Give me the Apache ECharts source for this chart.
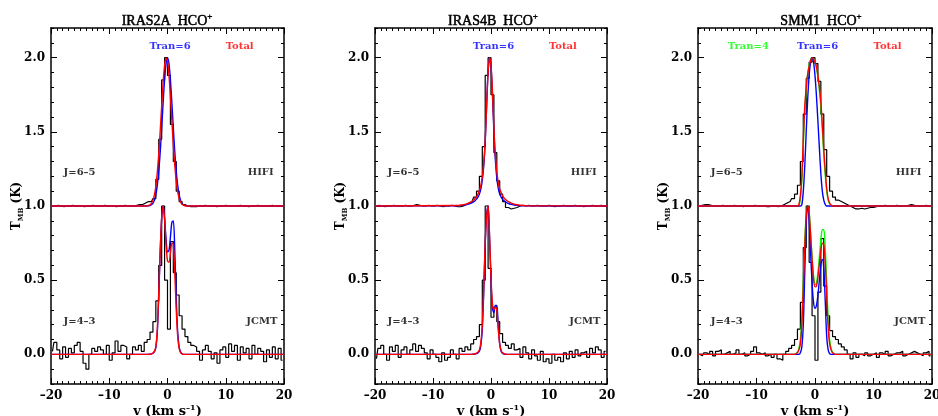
<!DOCTYPE html>
<html><head><meta charset="utf-8">
<script src="https://cdn.jsdelivr.net/npm/echarts@6/dist/echarts.min.js"></script>
<style>html,body{margin:0;padding:0;background:#fff}#c{width:938px;height:416px}</style>
</head><body><div id="c"></div>
<script>
// ---------- text ----------
const sources = ['IRAS2A', 'IRAS4B', 'SMM1'];
const molecule = 'HCO';
const xTicks = [-20, -10, 0, 10, 20];
const yTicks = [0, 0.5, 1, 1.5, 2];
const transitionLabels = ['J=6\u20135', 'J=4\u20133'];
const instrumentLabels = ['HIFI', 'JCMT'];
const hifiOffset = 1.0;

// ---------- observed channels (0.5 km/s) ----------
const chanV = [];
for (let k = 0; k < 80; k++) chanV.push(-19.75 + 0.5 * k);

const iras2a_hifi_obs = [0.00,0.00,0.005,0.00,-0.005,0.00,0.00,0.005,0.00,0.00, 0.00,-0.005,0.00,0.00,0.005,0.00,0.00,0.00,0.005,0.00,
  0.00,0.00,-0.005,0.00,0.00,0.005,0.00,0.00,0.00,0.005, 0.01,0.01,0.02,0.03,
  0.03,0.05,0.18,0.45,0.85,1.00,0.88,0.55,0.30,0.10,0.03,0.01,0.00,-0.005,-0.005,
  -0.005,0.00,0.00,0.005,0.00,0.00,0.00,-0.005,0.00,0.00, 0.005,0.00,0.00,0.00,0.00,0.005,0.00,0.00,-0.005,0.00,
  0.00,0.005,0.00,0.00,0.00,0.00,0.005,0.00,0.00,0.00,0.00];
const iras2a_jcmt_obs = [0.02,0.08,0.03,-0.03,0.05,-0.02,0.04,0.01,0.06,0.08,
  0.02,-0.06,-0.10,0.00,0.04,0.02,0.05,0.03,0.00,0.06,
  -0.04,0.01,0.09,0.02,0.06,0.05,-0.03,0.00,0.05,0.03,
  0.06,0.02,0.08,0.10,
  0.15,0.22,0.36,0.60,1.00,0.50,0.17,0.76,0.55,0.40,0.26,0.17,0.12,0.08,0.06,
  0.05,0.02,-0.04,0.03,0.06,0.02,-0.03,0.01,-0.06,0.03,
  0.05,-0.02,0.07,0.02,0.06,-0.04,0.05,0.01,0.04,-0.03,
  0.06,0.00,0.04,0.02,-0.05,0.03,-0.02,0.05,-0.03,0.04,-0.04];
const iras4b_hifi_obs = [0.00,0.005,0.00,-0.005,0.00,0.00,0.005,0.00,0.00,0.00, 0.005,0.00,0.00,0.005,0.01,0.005,0.00,0.00,0.005,0.00,
  0.00,0.005,0.00,-0.005,0.00,0.00,0.005,0.00,-0.005,-0.005, 0.00,
  0.01,0.02,0.03,0.06,0.10,0.20,0.40,0.88,1.00,0.75,0.36,0.17,0.08,0.03,-0.01,-0.02,-0.015,-0.01,
  0.00,0.005,0.00,0.005,0.00,0.00,0.005,0.00,0.00,0.00, 0.005,0.00,-0.005,0.00,0.00,0.005,0.00,0.00,0.00,0.005,
  0.00,0.00,-0.005,0.00,0.00,0.005,0.00,0.00,0.005,0.00,0.00];
const iras4b_jcmt_obs = [-0.03,0.04,0.06,0.00,-0.04,0.05,0.02,0.06,-0.02,0.03, 0.05,0.00,0.03,0.07,0.02,0.06,0.04,0.01,-0.03,0.03,
  0.00,-0.02,-0.05,0.01,-0.04,-0.02,0.03,0.00,-0.03,0.04, 0.02,
  0.05,0.03,0.07,0.10,0.12,0.20,0.50,1.00,0.58,0.25,0.32,0.22,0.14,0.08,0.06,0.04,0.07,0.03,
  0.04,-0.02,0.05,0.01,-0.03,0.03,-0.01,-0.04,0.02,-0.05, -0.03,-0.06,0.00,-0.04,-0.02,-0.05,0.01,-0.03,0.02,-0.02,
  0.03,-0.01,0.01,0.02,-0.02,0.04,0.01,0.05,0.03,-0.02,0.02];
const smm1_hifi_obs = [0.00,0.005,0.01,0.01,0.005,0.00,0.00,0.00,0.005,0.00, 0.00,0.00,0.005,0.00,0.00,-0.005,0.00,0.00,0.00,0.005,
  0.00,0.00,0.00,-0.005,-0.005,0.00,0.00,
  -0.005,0.00,0.01,0.02,0.03,0.05,0.08,0.14,0.30,0.62,0.86,0.97,1.00,0.96,0.84,0.62,0.38,0.20,0.10,0.06,0.04,0.03,0.02,0.01,0.00,-0.01,
  -0.02,-0.02,-0.015,-0.02,-0.015,-0.01,-0.01,-0.005,0.00,0.00, 0.005,0.00,0.00,0.00,0.005,0.00,0.00,0.00,0.005,0.01,
  0.005,0.00,0.00,0.00,0.005,0.00,0.00];
const smm1_jcmt_obs = [0.00,-0.01,0.01,0.00,0.02,-0.01,0.02,0.03,0.00,0.01, 0.02,0.00,0.01,0.03,0.00,0.01,-0.01,0.00,0.02,0.05,
  0.01,0.00,0.01,-0.01,0.00,-0.02,0.00,-0.03,
  -0.04,0.00,0.02,0.04,0.06,0.10,0.17,0.35,0.72,1.00,0.62,0.26,-0.04,0.42,0.78,0.46,0.26,0.16,0.12,0.10,0.07,0.05,0.03,0.00,
  -0.03,0.01,-0.02,0.00,-0.01,0.01,-0.01,0.00,0.01,-0.02, 0.01,0.00,0.02,-0.01,0.00,0.01,0.01,0.02,-0.01,0.00,
  0.01,0.02,0.01,0.00,-0.01,0.01,0.02,-0.01];

// ---------- model grid and model curves ----------
const modelV = [-20,-6,-5,-4.5,-4,-3.5,-3,-2.75,-2.5,-2.25,-2,-1.75,-1.5,-1.25,-1,-0.75,-0.5,-0.25,0,0.25,0.5,0.75,1,1.25,1.5,1.75,2,2.25,2.5,2.75,3,3.5,4,4.5,5,6,20];

const iras2a_hifi_tran6 = [0,0,0,0,0,0,0.003,0.008,0.018,0.038,0.076,0.139,0.234,0.365,0.525,0.696,0.851,0.960,1.0,0.960,0.851,0.696,0.525,0.365,0.234,0.139,0.076,0.038,0.018,0.008,0.003,0,0,0,0,0,0];
const iras2a_hifi_total = [0,0,0,0,0,0.001,0.008,0.018,0.038,0.075,0.135,0.227,0.352,0.506,0.674,0.830,0.946,0.998,0.976,0.882,0.739,0.573,0.411,0.273,0.168,0.096,0.050,0.025,0.011,0.005,0.002,0,0,0,0,0,0];
const iras2a_jcmt_tran6 = [0,0,0,0,0,0,0.001,0.003,0.007,0.018,0.045,0.15,0.40,0.69,0.92,1.0,0.92,0.78,0.69,0.70,0.79,0.89,0.90,0.70,0.38,0.15,0.05,0.015,0.004,0,0,0,0,0,0,0,0];
const iras2a_jcmt_total = [0,0,0,0,0,0,0.001,0.003,0.008,0.02,0.05,0.17,0.42,0.70,0.92,1.0,0.91,0.74,0.63,0.62,0.68,0.75,0.74,0.55,0.30,0.12,0.04,0.012,0.003,0,0,0,0,0,0,0,0];

const iras4b_hifi_tran6 = [0,0.002,0.004,0.007,0.011,0.018,0.028,0.036,0.046,0.06,0.08,0.115,0.175,0.27,0.43,0.68,0.91,1.0,0.94,0.75,0.50,0.31,0.19,0.12,0.08,0.06,0.045,0.035,0.028,0.022,0.017,0.011,0.007,0.004,0.002,0.001,0];
const iras4b_hifi_total = [0,0.003,0.007,0.011,0.017,0.027,0.040,0.05,0.062,0.08,0.105,0.14,0.20,0.29,0.44,0.68,0.90,1.0,0.95,0.77,0.53,0.34,0.23,0.16,0.115,0.09,0.068,0.054,0.044,0.036,0.029,0.019,0.012,0.008,0.005,0.002,0];
const iras4b_jcmt_tran6 = [0,0,0,0,0,0,0.001,0.002,0.005,0.01,0.02,0.06,0.17,0.42,0.74,0.94,1.0,0.79,0.50,0.31,0.28,0.33,0.33,0.19,0.07,0.02,0.006,0.002,0,0,0,0,0,0,0,0,0];
const iras4b_jcmt_total = [0,0,0,0,0,0,0.002,0.004,0.008,0.015,0.03,0.08,0.20,0.45,0.75,0.93,1.0,0.80,0.52,0.34,0.30,0.32,0.30,0.17,0.07,0.025,0.01,0.004,0.001,0,0,0,0,0,0,0,0];

const smm1_hifi_tran4 = [0,0,0,0,0,0,0,0.005,0.05,0.18,0.41,0.64,0.79,0.89,0.95,0.99,1.0,0.99,0.97,0.93,0.87,0.78,0.67,0.52,0.35,0.21,0.10,0.04,0.015,0.004,0,0,0,0,0,0,0];
const smm1_hifi_tran6 = [0,0,0,0,0,0,0,0,0,0.01,0.10,0.27,0.50,0.72,0.88,0.97,1.0,0.97,0.88,0.74,0.57,0.39,0.22,0.10,0.04,0.01,0,0,0,0,0,0,0,0,0,0,0];
const smm1_hifi_total = [0,0,0,0,0,0,0,0.01,0.07,0.2,0.45,0.67,0.80,0.89,0.94,0.98,1.0,0.99,0.97,0.94,0.88,0.80,0.70,0.55,0.38,0.24,0.12,0.05,0.02,0.005,0,0,0,0,0,0,0];
const smm1_jcmt_tran4 = [0,0,0,0,0,0,0.015,0.04,0.10,0.25,0.50,0.76,0.94,1.0,0.96,0.82,0.66,0.53,0.47,0.48,0.55,0.66,0.77,0.84,0.84,0.72,0.48,0.24,0.10,0.04,0.015,0,0,0,0,0,0];
const smm1_jcmt_tran6 = [0,0,0,0,0,0,0,0,0.01,0.05,0.20,0.55,0.88,1.0,0.90,0.68,0.48,0.35,0.31,0.33,0.40,0.50,0.60,0.64,0.58,0.36,0.12,0.03,0.005,0,0,0,0,0,0,0,0];
const smm1_jcmt_total = [0,0,0,0,0,0,0.01,0.03,0.07,0.2,0.45,0.72,0.93,1.0,0.95,0.80,0.64,0.51,0.455,0.46,0.52,0.61,0.70,0.75,0.74,0.62,0.40,0.18,0.07,0.03,0.01,0,0,0,0,0,0];

// ---------- build ----------
const BLUE = '#0000ff', RED = '#ff0000', GREEN = '#00ff00', BLACK = '#000000';
const panels = [
  { hifi: iras2a_hifi_obs, jcmt: iras2a_jcmt_obs,
    models: [
      { name: 'Tran=6', color: BLUE, hifi: iras2a_hifi_tran6, jcmt: iras2a_jcmt_tran6 },
      { name: 'Total', color: RED, hifi: iras2a_hifi_total, jcmt: iras2a_jcmt_total } ] },
  { hifi: iras4b_hifi_obs, jcmt: iras4b_jcmt_obs,
    models: [
      { name: 'Tran=6', color: BLUE, hifi: iras4b_hifi_tran6, jcmt: iras4b_jcmt_tran6 },
      { name: 'Total', color: RED, hifi: iras4b_hifi_total, jcmt: iras4b_jcmt_total } ] },
  { hifi: smm1_hifi_obs, jcmt: smm1_jcmt_obs,
    models: [
      { name: 'Tran=4', color: GREEN, hifi: smm1_hifi_tran4, jcmt: smm1_jcmt_tran4 },
      { name: 'Tran=6', color: BLUE, hifi: smm1_hifi_tran6, jcmt: smm1_jcmt_tran6 },
      { name: 'Total', color: RED, hifi: smm1_hifi_total, jcmt: smm1_jcmt_total } ] }
];
const modelLabelV = { 'Tran=4': -11.4, 'Tran=6': 0.45, 'Total': 12.4 };

const SERIF = "'DejaVu Serif', serif";
const TSERIF = "'Liberation Serif', 'Times New Roman', serif";
const gridLeft = [51, 375, 698], gridW = [233, 232, 234], titleX = [162, 488, 816];
const grids = [], xAxes = [], yAxes = [], series = [], titles = [];
const fmtX = v => (v < 0 ? '\u2013' + Math.abs(v) : String(v));
const axLine = { show: true, onZero: false, lineStyle: { color: BLACK, width: 1.5 } };
const noLine = { show: false, onZero: false };
const tickStyle = { color: BLACK, width: 1 };

panels.forEach((p, i) => {
  grids.push({ left: gridLeft[i], top: 28, width: gridW[i], height: 356, outerBoundsMode: 'none' });
  const baseX = { type: 'value', gridIndex: i, min: -20, max: 20, interval: 10,
    splitLine: { show: false }, axisLine: axLine,
    axisTick: { inside: true, length: 6, lineStyle: tickStyle },
    minorTick: { show: true, splitNumber: 10, length: 3, lineStyle: tickStyle } };
  xAxes.push(Object.assign({}, baseX, { position: 'bottom',
    axisLabel: { show: true, margin: 6, color: BLACK, fontFamily: SERIF, fontWeight: 'bold', fontSize: 12, formatter: fmtX },
    name: '{a|v (km s}{s|\u20131}{a|)}', nameLocation: 'middle', nameGap: 20, nameMoveOverlap: false,
    nameTextStyle: { rich: { a: { fontFamily: SERIF, fontWeight: 'bold', fontSize: 13, color: BLACK, lineHeight: 16 },
                             s: { fontFamily: SERIF, fontWeight: 'bold', fontSize: 8, color: BLACK, verticalAlign: 'top', lineHeight: 16 } } } }));
  xAxes.push(Object.assign({}, baseX, { position: 'top', axisLabel: { show: false } }));
  const baseY = { type: 'value', gridIndex: i, min: -0.2, max: 2.2, interval: 0.1, splitLine: { show: false } };
  yAxes.push(Object.assign({}, baseY, { position: 'left', axisLine: axLine,
    axisTick: { inside: true, length: 3, lineStyle: tickStyle },
    axisLabel: { show: true, customValues: yTicks, margin: 6, color: BLACK, fontFamily: SERIF, fontWeight: 'bold', fontSize: 12, formatter: v => Number(v).toFixed(1) },
    name: '{a|T}{b|MB}{a| (K)}', nameLocation: 'middle', nameGap: 26, nameMoveOverlap: false,
    nameTextStyle: { rich: { a: { fontFamily: SERIF, fontWeight: 'bold', fontSize: 12, color: BLACK, lineHeight: 16 },
                             b: { fontFamily: SERIF, fontWeight: 'bold', fontSize: 7, color: BLACK, verticalAlign: 'bottom', lineHeight: 16 } } } }));
  yAxes.push(Object.assign({}, baseY, { position: 'left', axisLine: noLine,
    axisTick: { inside: true, length: 6, customValues: yTicks, lineStyle: tickStyle }, axisLabel: { show: false } }));
  yAxes.push(Object.assign({}, baseY, { position: 'right', axisLine: axLine,
    axisTick: { inside: true, length: 3, lineStyle: tickStyle }, axisLabel: { show: false } }));
  yAxes.push(Object.assign({}, baseY, { position: 'right', axisLine: noLine,
    axisTick: { inside: true, length: 6, customValues: yTicks, lineStyle: tickStyle }, axisLabel: { show: false } }));

  titles.push({ text: '{t|' + sources[i] + '  ' + molecule + '}{s|+}', left: titleX[i], top: 7, textAlign: 'center',
    textStyle: { rich: { t: { fontFamily: TSERIF, fontSize: 14, fontWeight: 'normal', color: BLACK, lineHeight: 18, textBorderColor: BLACK, textBorderWidth: 0.5 },
                         s: { fontFamily: TSERIF, fontSize: 9, fontWeight: 'normal', color: BLACK, verticalAlign: 'top', lineHeight: 18, textBorderColor: BLACK, textBorderWidth: 0.4 } } } });

  const xi = 2 * i, yi = 4 * i;
  const obsLine = (vals, off) => ({ type: 'line', xAxisIndex: xi, yAxisIndex: yi, step: 'middle', symbol: 'none',
    data: vals.map((y, k) => [chanV[k], y + off]), lineStyle: { color: BLACK, width: 1.2 }, z: 2, silent: true });
  series.push(obsLine(p.hifi, hifiOffset));
  series.push(obsLine(p.jcmt, 0));
  p.models.forEach((m, j) => {
    [[m.hifi, hifiOffset], [m.jcmt, 0]].forEach(([vals, off]) => {
      series.push({ type: 'line', xAxisIndex: xi, yAxisIndex: yi, smooth: 0.3, symbol: 'none', silent: true,
        data: vals.map((y, k) => [modelV[k], y + off]), lineStyle: { color: m.color, width: 1.4 }, z: 3 + j });
    });
  });
  const labels = [];
  p.models.forEach(m => labels.push({ value: [modelLabelV[m.name], 2.075], label: { formatter: m.name, color: m.color } }));
  labels.push({ value: [-15.1, 1.225], label: { formatter: transitionLabels[0], color: BLACK } });
  labels.push({ value: [16.0, 1.225], label: { formatter: instrumentLabels[0], color: BLACK } });
  labels.push({ value: [-15.1, 0.225], label: { formatter: transitionLabels[1], color: BLACK } });
  labels.push({ value: [16.2, 0.225], label: { formatter: instrumentLabels[1], color: BLACK } });
  series.push({ type: 'scatter', xAxisIndex: xi, yAxisIndex: yi, symbol: 'circle', symbolSize: 1, silent: true,
    itemStyle: { color: 'rgba(0,0,0,0)' }, data: labels, z: 10,
    label: { show: true, position: 'inside', fontFamily: SERIF, fontWeight: 'bold', fontSize: 10 } });
});

const chart = echarts.init(document.getElementById('c'), null, { renderer: 'canvas' });
chart.setOption({ animation: false, backgroundColor: '#fff', title: titles, grid: grids, xAxis: xAxes, yAxis: yAxes, series: series });
</script></body></html>
